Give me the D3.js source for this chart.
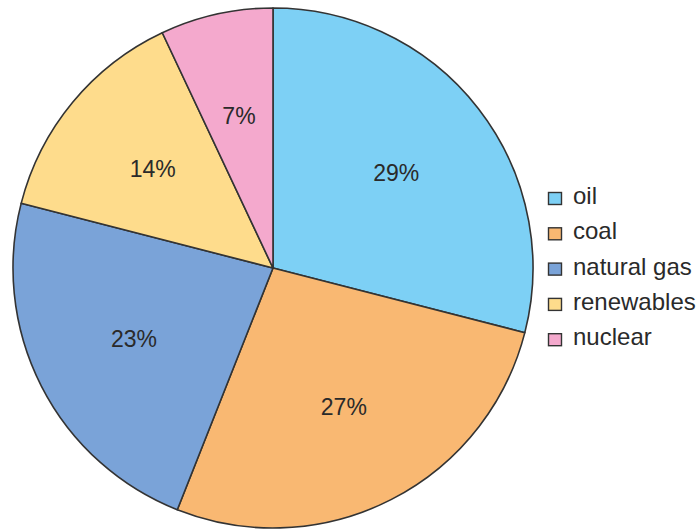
<!DOCTYPE html>
<html>
<head>
<meta charset="utf-8">
<script src="https://cdn.jsdelivr.net/npm/d3@7"></script>
<style>
  html, body { margin: 0; padding: 0; background: #fff; }
  svg { display: block; }
  text { font-family: "Liberation Sans", Arial, Helvetica, sans-serif; fill: #2a2a2a; }
</style>
</head>
<body>
<svg id="chart" width="699" height="529"></svg>
<script>
// Energy sources, share of total (%)
const sources = ["oil", "coal", "natural gas", "renewables", "nuclear"];
const shares = [29, 27, 23, 14, 7];
const colors = ["#7dd0f5", "#f9b872", "#7aa3d8", "#fedc8c", "#f4a9cd"];

const width = 699, height = 529;
const cx = 273, cy = 268, radius = 260;

const svg = d3.select("#chart");
const g = svg.append("g").attr("transform", `translate(${cx},${cy})`);

const pie = d3.pie().sort(null).value(d => d.value);
const data = pie(sources.map((s, i) => ({ name: s, value: shares[i], color: colors[i] })));

const arc = d3.arc().innerRadius(0).outerRadius(radius);
const labelArc = d3.arc().innerRadius(radius * 0.6).outerRadius(radius * 0.6);

g.selectAll("path.slice")
  .data(data)
  .join("path")
  .attr("class", "slice")
  .attr("d", arc)
  .attr("fill", d => d.data.color)
  .attr("stroke", "#333")
  .attr("stroke-width", 1.6)
  .attr("stroke-linejoin", "round");

g.selectAll("text.pct")
  .data(data)
  .join("text")
  .attr("class", "pct")
  .attr("transform", d => `translate(${labelArc.centroid(d)})`)
  .attr("text-anchor", "middle")
  .attr("dy", "0.36em")
  .style("font-size", "23px")
  .text(d => d.data.value + "%");

// Legend
const legend = svg.append("g").attr("transform", "translate(548,204)");
const rowStep = 35.3;
const rows = legend.selectAll("g.row")
  .data(data)
  .join("g")
  .attr("class", "row")
  .attr("transform", (d, i) => `translate(0,${i * rowStep})`);

rows.append("rect")
  .attr("x", 0.5)
  .attr("y", -11.5)
  .attr("width", 13)
  .attr("height", 12)
  .attr("fill", d => d.data.color)
  .attr("stroke", "#333")
  .attr("stroke-width", 1.4);

rows.append("text")
  .attr("x", 25)
  .attr("y", 0)
  .style("font-size", "24px")
  .text(d => d.data.name);
</script>
</body>
</html>
